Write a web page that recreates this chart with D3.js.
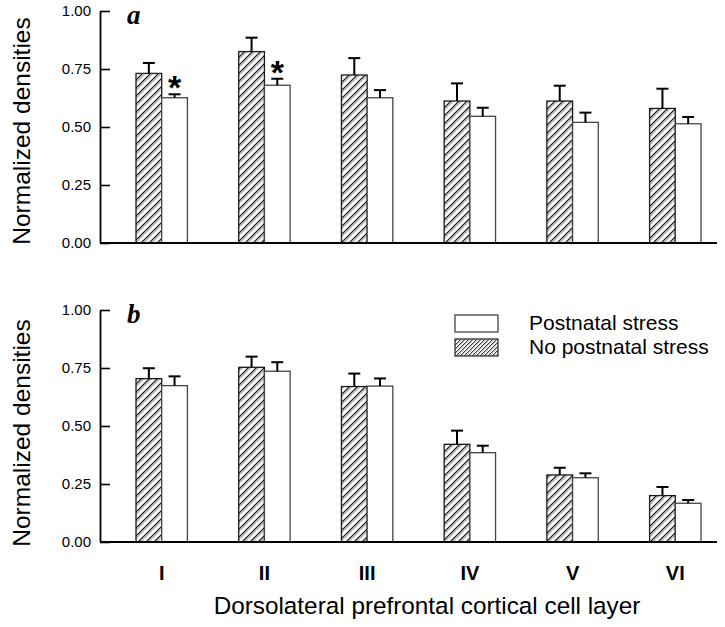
<!DOCTYPE html>
<html>
<head>
<meta charset="utf-8">
<script src="https://cdn.jsdelivr.net/npm/d3@7/dist/d3.min.js"></script>
<style>
  html, body { margin: 0; padding: 0; background: #fff; }
  svg { display: block; }
  text { font-family: Arial, "Liberation Sans", sans-serif; fill: #000; }
</style>
</head>
<body>
<svg id="chart" width="725" height="627"></svg>
<script>
// ---------- data ----------
const layers = ["I", "II", "III", "IV", "V", "VI"];
const yTicks = [0, 0.25, 0.5, 0.75, 1.0];
const seriesNames = ["Postnatal stress", "No postnatal stress"];

// panel a
const aNoStress    = [0.731, 0.825, 0.724, 0.612, 0.612, 0.580];
const aNoStressErr = [0.045, 0.060, 0.073, 0.076, 0.066, 0.085];
const aStress      = [0.626, 0.680, 0.626, 0.546, 0.520, 0.514];
const aStressErr   = [0.015, 0.028, 0.033, 0.037, 0.042, 0.029];
const aSignificant = [true, true, false, false, false, false];

// panel b
const bNoStress    = [0.704, 0.753, 0.670, 0.421, 0.289, 0.200];
const bNoStressErr = [0.045, 0.046, 0.056, 0.059, 0.031, 0.037];
const bStress      = [0.674, 0.736, 0.672, 0.385, 0.277, 0.167];
const bStressErr   = [0.040, 0.039, 0.033, 0.030, 0.019, 0.014];
const bSignificant = [false, false, false, false, false, false];

const panels = [
  { letter: "a", top: 11, bottom: 243, no: aNoStress, noErr: aNoStressErr, st: aStress, stErr: aStressErr, sig: aSignificant, legend: false, titleY: 131 },
  { letter: "b", top: 310, bottom: 542, no: bNoStress, noErr: bNoStressErr, st: bStress, stErr: bStressErr, sig: bSignificant, legend: true, titleY: 433 }
];

// ---------- drawing ----------
const svg = d3.select("#chart");
const axisLeftX = 100, axisRightX = 717;
const barW = 25.7;

const defs = svg.append("defs");
function hatch(id, s, w) {
  const p = defs.append("pattern").attr("id", id)
    .attr("patternUnits", "userSpaceOnUse").attr("width", s).attr("height", s);
  p.append("rect").attr("width", s).attr("height", s).attr("fill", "#fff");
  const d = `M${-s/4},${s/4} L${s/4},${-s/4} M0,${s} L${s},0 M${s*3/4},${s*5/4} L${s*5/4},${s*3/4}`;
  p.append("path").attr("d", d).attr("stroke", "#bdbdbd").attr("stroke-width", w * 1.6)
    .attr("transform", `translate(${s*0.28},0)`);
  p.append("path").attr("d", d).attr("stroke", "#111").attr("stroke-width", w);
}
hatch("hatchBar", 8, 1.2);
hatch("hatchLeg", 4, 0.8);

const x = d3.scalePoint().domain(layers).range([161.7, 675.3]);

panels.forEach(p => {
  const y = d3.scaleLinear().domain([0, 1]).range([p.bottom, p.top]);
  const g = svg.append("g");

  const rows = layers.map((l, i) => ({ l, i, no: p.no[i], noErr: p.noErr[i], st: p.st[i], stErr: p.stErr[i], sig: p.sig[i] }));

  // no-stress (hatched) bars
  g.selectAll("rect.no").data(rows).join("rect").attr("class", "no")
    .attr("x", d => x(d.l) - barW).attr("width", barW)
    .attr("y", d => y(d.no)).attr("height", d => y(0) - y(d.no))
    .attr("fill", "url(#hatchBar)").attr("stroke", "#1a1a1a").attr("stroke-width", 1.3);
  // stress (white) bars
  g.selectAll("rect.st").data(rows).join("rect").attr("class", "st")
    .attr("x", d => x(d.l)).attr("width", barW)
    .attr("y", d => y(d.st)).attr("height", d => y(0) - y(d.st))
    .attr("fill", "#fff").attr("stroke", "#444").attr("stroke-width", 1.3);

  // error bars
  const errs = [];
  rows.forEach(d => {
    errs.push({ cx: x(d.l) - barW / 2, v: d.no, e: d.noErr });
    errs.push({ cx: x(d.l) + barW / 2, v: d.st, e: d.stErr });
  });
  const eg = g.selectAll("g.err").data(errs).join("g").attr("class", "err");
  eg.append("line").attr("x1", d => d.cx).attr("x2", d => d.cx)
    .attr("y1", d => y(d.v)).attr("y2", d => y(d.v + d.e))
    .attr("stroke", "#000").attr("stroke-width", 2);
  eg.append("line").attr("x1", d => d.cx - 6).attr("x2", d => d.cx + 6)
    .attr("y1", d => y(d.v + d.e)).attr("y2", d => y(d.v + d.e))
    .attr("stroke", "#000").attr("stroke-width", 2);

  // significance asterisks
  g.selectAll("text.sig").data(rows.filter(d => d.sig)).join("text").attr("class", "sig")
    .attr("x", d => x(d.l) + barW / 2).attr("y", d => y(d.st + d.stErr) + 5)
    .attr("text-anchor", "middle").attr("font-size", 34).attr("font-weight", "bold")
    .text("*");

  // y axis
  const ya = d3.axisLeft(y).tickValues(yTicks).tickFormat(d3.format(".2f"))
    .tickSizeInner(-10).tickSizeOuter(0).tickPadding(9);
  const yg = g.append("g").attr("transform", `translate(${axisLeftX},0)`).call(ya);
  yg.select(".domain").attr("stroke-width", 1.8);
  yg.selectAll(".tick line").attr("stroke-width", 1.6);
  yg.selectAll(".tick text").attr("font-size", 15).attr("font-family", "Arial, 'Liberation Sans', sans-serif");

  // x axis baseline
  g.append("line").attr("x1", axisLeftX).attr("x2", axisRightX)
    .attr("y1", y(0)).attr("y2", y(0)).attr("stroke", "#000").attr("stroke-width", 1.8);

  // y title
  g.append("text")
    .attr("transform", `translate(30,${p.titleY}) rotate(-90)`)
    .attr("text-anchor", "middle").attr("font-size", 24.5)
    .text("Normalized densities");

  // panel letter
  g.append("text").attr("x", 127).attr("y", p.top + 13)
    .style("font-family", "'Liberation Serif', 'Times New Roman', serif")
    .attr("font-style", "italic").attr("font-weight", "bold").attr("font-size", 27)
    .text(p.letter);

  if (p.legend) {
    const lg = g.append("g");
    const items = [
      { name: seriesNames[0], fill: "#fff", stroke: "#444" },
      { name: seriesNames[1], fill: "url(#hatchLeg)", stroke: "#333" }
    ];
    items.forEach((it, k) => {
      const yy = 315 + k * 24;
      lg.append("rect").attr("x", 455).attr("y", yy).attr("width", 43).attr("height", 17)
        .attr("fill", it.fill).attr("stroke", it.stroke).attr("stroke-width", 1.3);
      lg.append("text").attr("x", 529).attr("y", yy + 15).attr("font-size", 21).text(it.name);
    });
  }
});

// x category labels
svg.append("g").selectAll("text").data(layers).join("text")
  .attr("x", d => x(d)).attr("y", 580)
  .attr("text-anchor", "middle").attr("font-size", 20).attr("font-weight", "bold")
  .text(d => d);

// x title
svg.append("text").attr("x", 427).attr("y", 614).attr("text-anchor", "middle")
  .attr("font-size", 24.3).text("Dorsolateral prefrontal cortical cell layer");
</script>
</body>
</html>
